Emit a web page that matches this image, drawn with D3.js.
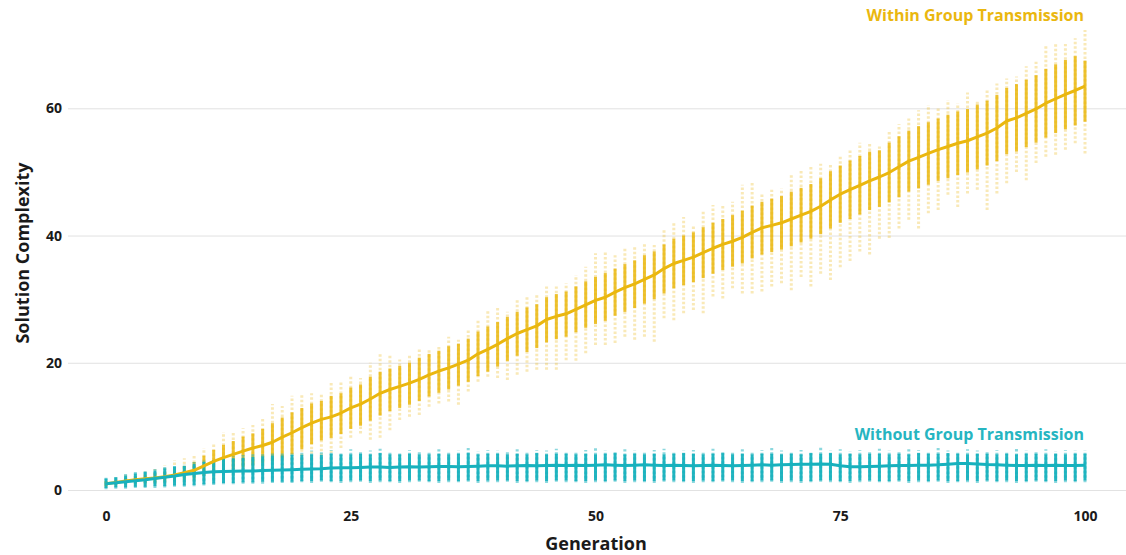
<!DOCTYPE html>
<html>
<head>
<meta charset="utf-8">
<script src="https://cdn.jsdelivr.net/npm/d3@7"></script>
<style>
  html, body { margin: 0; padding: 0; background: #fff; }
  svg { display: block; font-family: "Open Sans", "Noto Sans", sans-serif; }
</style>
</head>
<body>
<svg id="chart" width="1126" height="555"></svg>
<script>
// ---------- DATA ----------
const generations = d3.range(0, 101);
const xTicks = [0, 25, 50, 75, 100];
const yTicks = [0, 20, 40, 60];
const seriesNames = ["Within Group Transmission", "Without Group Transmission"];
const xTitle = "Generation";
const yTitle = "Solution Complexity";

// Within group transmission (yellow): mean, dense core (lo/hi), faint extent (min/max)
const withinMean = [
  1.0,1.2,1.4,1.6,1.75,1.9,2.1,2.35,2.7,3.1,
  3.8,4.5,5.1,5.6,6.1,6.6,7.0,7.5,8.3,9.0,
  9.8,10.5,11.1,11.5,12.1,12.9,13.5,14.3,15.2,15.8,
  16.3,16.8,17.4,18.1,18.7,19.2,19.8,20.4,21.4,22.1,
  22.9,23.8,24.6,25.2,25.8,26.8,27.3,27.7,28.4,29.1,
  29.8,30.3,31.1,31.8,32.4,33.1,33.8,34.8,35.6,36.1,
  36.6,37.3,38.0,38.6,39.1,39.7,40.5,41.2,41.6,42.0,
  42.6,43.2,43.8,44.6,45.6,46.5,47.2,47.9,48.6,49.2,
  49.9,50.8,51.7,52.3,52.9,53.5,54.0,54.5,54.9,55.5,
  56.1,56.9,58.0,58.5,59.2,59.9,60.8,61.5,62.2,62.8,
  63.5];
const withinMax = [
  1.8,2.0,2.4,2.8,3.0,3.3,3.9,4.7,5.0,5.5,
  6.6,7.2,9.1,9.2,9.7,10.2,11.2,13.5,13.2,14.8,
  14.9,15.2,15.2,17.0,16.9,18.1,17.6,20.0,21.5,21.2,
  20.5,21.1,22.3,22.3,22.8,24.1,23.6,25.4,26.7,28.4,
  28.6,28.0,29.9,30.4,30.8,32.0,32.0,32.5,33.8,35.1,
  37.2,37.5,36.9,38.0,38.3,38.8,38.5,40.9,42.2,42.9,
  41.7,43.8,44.8,44.8,45.3,48.0,48.3,46.6,47.2,47.4,
  49.5,50.2,51.1,51.3,51.4,52.4,53.7,54.6,54.4,54.0,
  56.6,57.5,58.4,59.7,60.5,60.0,61.3,60.8,62.5,61.3,
  62.9,63.9,64.7,65.0,66.6,67.3,70.0,70.2,70.1,71.0,
  72.3];
const withinMin = [
  0.4,0.5,0.6,0.7,0.8,0.9,1.0,1.1,1.2,1.4,
  1.6,1.8,2.0,2.2,2.5,2.8,3.0,3.4,3.7,4.1,
  4.6,5.0,5.4,5.8,6.6,8.2,8.9,7.9,8.2,9.4,
  11.0,11.5,11.8,13.1,13.6,13.9,13.4,15.5,17.0,17.8,
  17.6,17.3,18.1,18.6,18.9,18.9,18.9,20.4,20.3,21.5,
  22.8,22.8,23.1,24.1,23.6,24.1,23.3,27.0,26.7,27.8,
  28.3,27.8,30.4,30.1,31.7,30.9,30.9,31.2,32.0,32.5,
  31.4,33.5,32.0,34.0,33.0,35.0,36.0,37.5,37.0,39.5,
  39.6,41.1,42.5,41.1,43.5,44.0,46.4,44.5,46.6,47.2,
  44.0,46.6,48.2,50.0,48.7,51.4,52.4,52.7,53.5,54.5,
  52.9];
const withinLo = [
  0.6,0.8,0.9,1.0,1.1,1.2,1.3,1.4,1.6,1.8,
  2.2,2.6,3.0,3.3,3.6,3.9,4.2,4.5,5.0,5.6,
  6.4,7.2,7.8,8.2,8.8,9.6,10.1,10.9,11.7,12.4,
  12.9,13.4,14.0,14.7,15.3,15.8,16.4,17.0,17.9,18.6,
  19.4,20.3,21.1,21.7,22.3,23.2,23.7,24.1,24.8,25.5,
  26.1,26.6,27.4,28.0,28.6,29.3,30.0,30.9,31.7,32.2,
  32.7,33.3,34.0,34.6,35.1,35.6,36.4,37.0,37.4,37.8,
  38.3,38.9,39.5,40.2,41.1,42.0,42.6,43.3,44.0,44.5,
  45.2,46.0,46.9,47.4,48.0,48.6,49.0,49.5,49.9,50.4,
  51.0,51.7,52.8,53.2,53.9,54.6,55.4,56.1,56.7,57.3,
  57.9];
const withinHi = [
  1.4,1.6,1.9,2.2,2.4,2.6,2.9,3.3,3.8,4.4,
  5.4,6.3,7.1,7.7,8.4,8.9,9.6,10.5,11.4,12.2,
  12.9,13.6,14.0,14.8,15.2,16.1,16.6,17.8,18.6,19.1,
  19.5,20.0,20.8,21.4,21.9,22.6,23.0,23.8,24.9,25.7,
  26.4,27.2,28.0,28.7,29.2,30.3,30.8,31.2,32.0,32.8,
  33.5,34.1,34.8,35.5,36.1,36.9,37.5,38.6,39.5,40.0,
  40.5,41.3,42.0,42.6,43.2,43.9,44.7,45.3,45.8,46.2,
  46.9,47.5,48.1,49.0,50.1,51.0,51.8,52.5,53.2,53.4,
  54.6,55.6,56.5,57.2,57.8,58.4,59.0,59.5,59.9,60.6,
  61.2,62.1,63.2,63.8,64.5,65.2,66.2,66.9,67.6,68.2,
  67.5];

// Without group transmission (teal)
const withoutMean = [
  1.0,1.15,1.3,1.45,1.6,1.8,2.0,2.2,2.45,2.6,
  2.75,2.85,2.9,2.95,3.0,3.0,3.05,3.1,3.15,3.2,
  3.25,3.3,3.35,3.45,3.5,3.5,3.55,3.6,3.6,3.55,
  3.6,3.65,3.6,3.65,3.7,3.7,3.65,3.7,3.75,3.8,
  3.8,3.75,3.8,3.85,3.8,3.85,3.9,3.85,3.9,3.85,
  3.9,3.95,3.9,3.85,3.9,3.95,3.9,3.85,3.9,3.85,
  3.8,3.85,3.9,3.85,3.8,3.85,3.9,3.95,3.9,3.95,
  4.0,4.05,4.05,4.1,4.05,3.8,3.65,3.65,3.7,3.75,
  3.8,3.85,3.85,3.9,3.9,3.95,4.05,4.15,4.15,4.1,
  4.0,3.95,3.9,3.85,3.85,3.9,3.85,3.9,3.85,3.85,
  3.9];
const withoutMin = [
  0.1,0.2,0.2,0.3,0.3,0.3,0.4,0.5,0.5,0.6,
  0.7,0.8,0.9,0.9,1.0,1.0,1.0,1.1,1.1,1.1,
  1.2,1.1,1.3,1.2,1.1,1.2,1.3,1.1,1.2,1.2,
  1.1,1.2,1.3,1.2,1.1,1.2,1.2,1.3,1.1,1.2,
  1.2,1.3,1.1,1.2,1.2,1.1,1.3,1.2,1.2,1.1,
  1.2,1.2,1.3,1.1,1.2,1.2,1.1,1.3,1.2,1.2,
  1.1,1.2,1.2,1.3,1.2,1.1,1.2,1.2,1.3,1.1,
  1.2,1.1,1.2,1.3,1.2,1.2,1.1,1.2,1.3,1.2,
  1.2,1.3,1.1,1.2,1.2,1.3,1.1,1.2,1.2,1.1,
  1.3,1.2,1.2,1.1,1.2,1.3,1.2,1.1,1.2,1.2,
  1.2];
const withoutLo = [
  0.3,0.4,0.4,0.5,0.5,0.6,0.6,0.7,0.7,0.8,
  0.9,1.0,1.1,1.1,1.2,1.2,1.3,1.3,1.3,1.3,
  1.4,1.4,1.5,1.4,1.4,1.5,1.5,1.4,1.5,1.4,
  1.4,1.5,1.5,1.4,1.4,1.5,1.4,1.5,1.4,1.5,
  1.5,1.5,1.4,1.4,1.5,1.4,1.5,1.5,1.4,1.4,
  1.5,1.4,1.5,1.4,1.5,1.4,1.4,1.5,1.5,1.4,
  1.4,1.5,1.4,1.5,1.5,1.4,1.4,1.5,1.5,1.4,
  1.5,1.4,1.4,1.5,1.5,1.4,1.4,1.5,1.5,1.4,
  1.4,1.5,1.4,1.5,1.4,1.5,1.4,1.4,1.5,1.4,
  1.5,1.4,1.5,1.4,1.4,1.5,1.4,1.4,1.5,1.4,
  1.5];
const withoutHi = [
  1.8,2.0,2.3,2.6,2.9,3.1,3.4,3.7,3.8,4.1,
  4.4,4.7,4.9,5.0,5.1,5.2,5.3,5.4,5.4,5.5,
  5.5,5.6,5.5,5.7,5.6,5.6,5.7,5.6,5.8,5.6,
  5.6,5.7,5.6,5.6,5.7,5.6,5.7,5.8,5.6,5.7,
  5.7,5.6,5.7,5.6,5.8,5.6,5.7,5.7,5.6,5.7,
  5.6,5.7,5.8,5.6,5.7,5.6,5.7,5.6,5.7,5.8,
  5.7,5.6,5.7,5.8,5.6,5.7,5.6,5.7,5.7,5.6,
  5.7,5.6,5.8,5.7,5.8,5.6,5.7,5.6,5.7,5.7,
  5.6,5.7,5.6,5.8,5.7,5.7,5.8,5.7,5.6,5.7,
  5.7,5.6,5.7,5.6,5.7,5.7,5.6,5.7,5.6,5.7,
  5.7];
const withoutMax = [
  2.0,2.2,2.5,2.9,3.1,3.3,3.6,3.9,4.1,4.4,
  4.7,5.0,5.2,5.3,5.5,5.6,5.8,5.9,6.0,6.0,
  6.0,6.2,6.1,6.3,6.0,6.4,6.1,6.2,6.5,6.1,
  6.0,6.3,6.2,6.1,6.4,6.0,6.2,6.6,6.1,6.3,
  6.2,6.0,6.4,6.1,6.3,6.2,6.5,6.1,6.0,6.3,
  6.6,6.2,6.1,6.4,6.2,6.0,6.3,6.5,6.1,6.2,
  6.3,6.1,6.5,6.2,6.0,6.4,6.1,6.3,6.6,6.2,
  6.0,6.3,6.1,6.7,6.2,6.4,6.1,6.3,6.0,6.5,
  6.2,6.1,6.4,6.3,6.0,6.6,6.2,6.1,6.4,6.2,
  6.0,6.3,6.1,6.5,6.2,6.0,6.4,6.1,6.3,6.2,
  6.2];

// ---------- STYLE ----------
const YELLOW = "#EAB70F";
const TEAL = "#17B1BD";

const svg = d3.select("#chart");
const W = 1126, H = 555;

const x = d3.scaleLinear().domain([0, 100]).range([106, 1085]);
const y = d3.scaleLinear().domain([0, 60]).range([490, 108.3]);

// Grid + y axis
const yAxis = d3.axisLeft(y).tickValues(yTicks).tickSizeInner(-(W - 68)).tickSizeOuter(0).tickPadding(6);
const gy = svg.append("g").attr("transform", "translate(68,0)").call(yAxis);
gy.select(".domain").remove();
gy.selectAll(".tick line").attr("stroke", "#e2e2e2").attr("stroke-width", 1);
gy.selectAll(".tick text").attr("fill", "#1a1a1a").style("font-size", "14px").style("font-weight", "700")
  .style("font-family", "'Open Sans', sans-serif");

// x axis
const xAxis = d3.axisBottom(x).tickValues(xTicks).tickSize(0).tickPadding(21);
const gx = svg.append("g").attr("transform", "translate(0,490)").call(xAxis);
gx.select(".domain").remove();
gx.selectAll(".tick text").attr("fill", "#1a1a1a").style("font-size", "14px").style("font-weight", "700")
  .style("font-family", "'Open Sans', sans-serif");

// axis titles
svg.append("text").attr("x", 596).attr("y", 550).attr("text-anchor", "middle")
  .style("font-size", "18px").style("font-weight", "700").attr("fill", "#1a1a1a").text(xTitle);
svg.append("text").attr("transform", "translate(29,253) rotate(-90)").attr("text-anchor", "middle")
  .style("font-size", "18px").style("font-weight", "700").attr("fill", "#1a1a1a").text(yTitle);

function strips(cls, color, mins, maxs, los, his, faintOpacity, coreOpacity) {
  const g = svg.append("g").attr("class", cls);
  g.selectAll("line.faint").data(generations).join("line").attr("class", "faint")
    .attr("x1", d => x(d)).attr("x2", d => x(d))
    .attr("y1", d => y(mins[d])).attr("y2", d => y(maxs[d]))
    .attr("stroke", color).attr("stroke-width", 3).attr("stroke-opacity", faintOpacity)
    .attr("stroke-dasharray", "2.5 2");
  g.selectAll("line.core").data(generations).join("line").attr("class", "core")
    .attr("x1", d => x(d)).attr("x2", d => x(d))
    .attr("y1", d => y(los[d])).attr("y2", d => y(his[d]))
    .attr("stroke", color).attr("stroke-width", 3).attr("stroke-opacity", coreOpacity);
}

strips("within-strips", YELLOW, withinMin, withinMax, withinLo, withinHi, 0.3, 0.85);
strips("without-strips", TEAL, withoutMin, withoutMax, withoutLo, withoutHi, 0.5, 0.95);

const line = vals => d3.line().x(d => x(d)).y(d => y(vals[d]))(generations);
svg.append("path").attr("d", line(withinMean)).attr("fill", "none").attr("stroke", YELLOW)
  .attr("stroke-width", 3).attr("stroke-linejoin", "round");
svg.append("path").attr("d", line(withoutMean)).attr("fill", "none").attr("stroke", TEAL)
  .attr("stroke-width", 3).attr("stroke-linejoin", "round");

// series labels
svg.append("text").attr("x", 1084).attr("y", 21).attr("text-anchor", "end")
  .style("font-size", "16px").style("font-weight", "700").attr("fill", YELLOW).text(seriesNames[0]);
svg.append("text").attr("x", 1084).attr("y", 440).attr("text-anchor", "end")
  .style("font-size", "16px").style("font-weight", "700").attr("fill", "#26B5C1").text(seriesNames[1]);
</script>
</body>
</html>
